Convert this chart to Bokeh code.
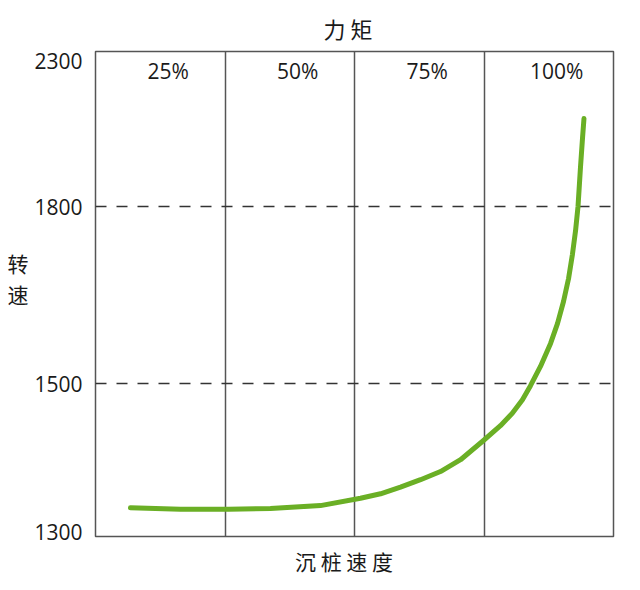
from bokeh.plotting import figure
from bokeh.models import FixedTicker, Range1d
from bokeh.core.properties import value
from bokeh.embed import file_html
from bokeh.resources import INLINE
import numpy as np

# ---- data ----
ZONE_LABELS = ["25%", "50%", "75%", "100%"]          # torque zones (top)
TICK_RPM = [1300, 1500, 1800, 2300]                  # rpm tick values
TICK_LABELS = ["1300", "1500", "1800", "2300"]
GRID_RPM = [1500, 1800]                              # dashed reference lines
SPEED = [0.270, 0.656, 1.027, 1.351, 1.737, 2.046, 2.201, 2.355, 2.510,
         2.664, 2.819, 2.996, 3.127, 3.220, 3.297, 3.359, 3.436, 3.514,
         3.568, 3.614, 3.653, 3.683, 3.707, 3.726, 3.745, 3.761, 3.772]
RPM = [1332, 1330, 1330, 1331, 1335, 1345, 1351, 1360, 1370,
       1381, 1397, 1423, 1443, 1460, 1478, 1497, 1529, 1568,
       1602, 1639, 1678, 1719, 1759, 1800, 1934, 2036, 2101]

TITLE = "力 矩"
XLABEL = "沉 桩 速 度\u3000"
YLABEL = "转\n速\n\u3000"

# ---- schematic (non-linear) rpm axis: where each tick sits on the axis ----
AXIS_POS = [5, 153, 330, 476]
Y_END = 485

def ypos(v):
    return np.interp(v, TICK_RPM, AXIS_POS)

CJK = "Noto Sans CJK SC"
NUM = "Open Sans"
TXT = "#1a1a1a"
GREY = "#555555"

p = figure(width=628, height=585, output_backend="svg", toolbar_location=None,
           x_range=Range1d(0, len(ZONE_LABELS)), y_range=Range1d(0, Y_END),
           min_border_left=95, min_border_right=15, min_border_top=51,
           min_border_bottom=49)
p.background_fill_color = "white"
p.border_fill_color = "white"
p.outline_line_color = GREY
p.outline_line_width = 1.5

# title
p.title.text = TITLE
p.title.align = "left"
p.title.offset = 228
p.title.text_font = CJK
p.title.text_font_size = "22px"
p.title.text_font_style = "normal"
p.title.text_color = TXT
p.title.standoff = 16

# grids
p.xgrid.ticker = FixedTicker(ticks=list(range(1, len(ZONE_LABELS))))
p.xgrid.grid_line_color = GREY
p.xgrid.grid_line_width = 1.5
p.ygrid.ticker = FixedTicker(ticks=list(ypos(GRID_RPM)))
p.ygrid.grid_line_color = "#333333"
p.ygrid.grid_line_width = 1.3
p.ygrid.grid_line_dash = "11 10"

# y axis
ya = p.yaxis[0]
ya.ticker = FixedTicker(ticks=list(ypos(TICK_RPM)))
ya.major_label_overrides = {float(k): l for k, l in zip(ypos(TICK_RPM), TICK_LABELS)}
ya.major_label_text_font = NUM
ya.major_label_text_font_size = "21px"
ya.major_label_text_color = TXT
ya.major_label_standoff = 13
ya.major_tick_line_color = None
ya.major_tick_out = 0
ya.major_tick_in = 0
ya.minor_tick_line_color = None
ya.axis_line_color = None
ya.axis_label = YLABEL
ya.axis_label_orientation = "horizontal"
ya.axis_label_text_font = CJK
ya.axis_label_text_font_size = "21px"
ya.axis_label_text_font_style = "normal"
ya.axis_label_text_color = TXT
ya.axis_label_text_line_height = 1.05
ya.axis_label_standoff = 3

# x axis
xa = p.xaxis[0]
xa.ticker = FixedTicker(ticks=[])
xa.major_tick_line_color = None
xa.minor_tick_line_color = None
xa.axis_line_color = None
xa.axis_label = XLABEL
xa.axis_label_text_font = CJK
xa.axis_label_text_font_size = "21px"
xa.axis_label_text_font_style = "normal"
xa.axis_label_text_color = TXT
xa.axis_label_standoff = 9

# zone labels
p.text(x=np.arange(len(ZONE_LABELS)) + 0.5, y=[Y_END] * len(ZONE_LABELS),
       text=ZONE_LABELS, text_align="center", text_baseline="middle",
       x_offset=8, y_offset=19, text_font=value(NUM), text_font_size="21px",
       text_color=TXT)

# curve
p.line(SPEED, ypos(RPM), line_color="#6aaf25", line_width=5, line_cap="round",
       line_join="round")

open("out.html", "w").write(file_html(p, INLINE))
